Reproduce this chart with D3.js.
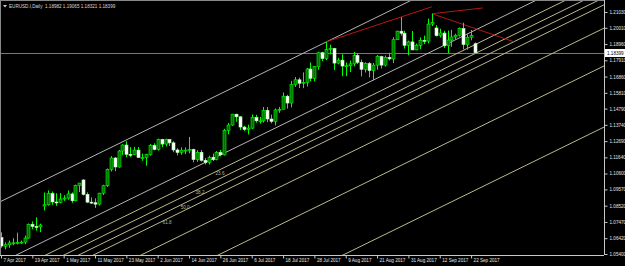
<!DOCTYPE html>
<html>
<head>
<meta charset="utf-8">
<script src="https://cdn.jsdelivr.net/npm/d3@7"></script>
<style>
  body { margin: 0; background: #000; }
  svg text { font-family: "Liberation Sans", Arial, sans-serif; }
</style>
</head>
<body>
<div id="main"></div>
<script>
const width = 625;
const height = 266;

// daily bars, EURUSD 7 Apr 2017 .. 25 Sep 2017
const dates = [
  "7 Apr","10 Apr","11 Apr","12 Apr","13 Apr","14 Apr","17 Apr","18 Apr","19 Apr","20 Apr","21 Apr",
  "24 Apr","25 Apr","26 Apr","27 Apr","28 Apr",
  "1 May","2 May","3 May","4 May","5 May","8 May","9 May","10 May","11 May","12 May","15 May","16 May",
  "17 May","18 May","19 May","22 May","23 May","24 May","25 May","26 May","29 May","30 May","31 May",
  "1 Jun","2 Jun","5 Jun","6 Jun","7 Jun","8 Jun","9 Jun","12 Jun","13 Jun","14 Jun","15 Jun","16 Jun",
  "19 Jun","20 Jun","21 Jun","22 Jun","23 Jun","26 Jun","27 Jun","28 Jun","29 Jun","30 Jun",
  "3 Jul","4 Jul","5 Jul","6 Jul","7 Jul","10 Jul","11 Jul","12 Jul","13 Jul","14 Jul","17 Jul","18 Jul",
  "19 Jul","20 Jul","21 Jul","24 Jul","25 Jul","26 Jul","27 Jul","28 Jul","31 Jul",
  "1 Aug","2 Aug","3 Aug","4 Aug","7 Aug","8 Aug","9 Aug","10 Aug","11 Aug","14 Aug","15 Aug","16 Aug",
  "17 Aug","18 Aug","21 Aug","22 Aug","23 Aug","24 Aug","25 Aug","28 Aug","29 Aug","30 Aug","31 Aug",
  "1 Sep","4 Sep","5 Sep","6 Sep","7 Sep","8 Sep","11 Sep","12 Sep","13 Sep","14 Sep","15 Sep","18 Sep",
  "19 Sep","20 Sep","21 Sep","22 Sep","25 Sep"
];
const opens = [
  1.0646,1.0590,1.0600,1.0612,1.0612,1.0615,1.0617,1.0643,1.0732,1.0718,1.0715,
  1.0850,1.0858,1.0931,1.0876,1.0874,
  1.0895,1.0901,1.0928,1.0884,1.0983,1.1018,1.0925,1.0875,1.0871,1.0862,1.0933,1.0981,
  1.1086,1.1160,1.1102,1.1205,1.1244,1.1184,1.1183,1.1211,1.1163,1.1163,1.1183,
  1.1242,1.1215,1.1280,1.1250,1.1280,1.1258,1.1212,1.1196,1.1210,1.1211,1.1215,1.1150,
  1.1197,1.1145,1.1131,1.1165,1.1150,1.1196,1.1180,1.1338,1.1373,1.1443,
  1.1426,1.1360,1.1345,1.1353,1.1422,1.1400,1.1400,1.1468,1.1412,1.1397,1.1470,1.1475,
  1.1559,1.1515,1.1634,1.1665,1.1643,1.1648,1.1735,1.1675,1.1750,
  1.1840,1.1802,1.1860,1.1867,1.1773,1.1792,1.1754,1.1756,1.1768,1.1822,1.1778,1.1733,
  1.1770,1.1725,1.1760,1.1815,1.1760,1.1810,1.1800,1.1924,1.1979,1.1966,1.1888,
  1.1910,1.1858,1.1888,1.1920,1.1915,1.2025,1.2000,1.1950,1.1967,1.1885,1.1922,1.1942,
  1.1953,1.1996,1.1893,1.1940,1.18982
];
const highs = [
  1.0680,1.0615,1.0627,1.0642,1.0678,1.0627,1.0659,1.0737,1.0750,1.0777,1.0736,
  1.0937,1.0951,1.0944,1.0932,1.0933,
  1.0920,1.0950,1.0938,1.0988,1.0999,1.1023,1.0938,1.0906,1.0899,1.0935,1.0987,1.1092,
  1.1172,1.1166,1.1212,1.1249,1.1268,1.1230,1.1232,1.1230,1.1188,1.1187,1.1250,
  1.1255,1.1285,1.1284,1.1285,1.1282,1.1268,1.1223,1.1229,1.1228,1.1296,1.1220,1.1210,
  1.1212,1.1160,1.1175,1.1188,1.1205,1.1212,1.1349,1.1387,1.1445,1.1445,
  1.1430,1.1368,1.1375,1.1441,1.1439,1.1425,1.1490,1.1489,1.1440,1.1480,1.1490,1.1583,
  1.1568,1.1658,1.1683,1.1679,1.1713,1.1742,1.1777,1.1752,1.1846,
  1.1846,1.1910,1.1892,1.1871,1.1807,1.1830,1.1777,1.1789,1.1845,1.1838,1.1796,1.1778,
  1.1780,1.1774,1.1825,1.1820,1.1822,1.1840,1.1940,1.1983,1.2070,1.1982,1.1918,
  1.1980,1.1899,1.1939,1.1950,1.2060,1.2092,1.2018,1.1995,1.1982,1.1983,1.1988,1.1962,
  1.2003,1.2034,1.1960,1.1987,1.19065
];
const lows = [
  1.0581,1.0570,1.0580,1.0597,1.0602,1.0605,1.0603,1.0640,1.0700,1.0690,1.0681,
  1.0821,1.0852,1.0858,1.0851,1.0867,
  1.0883,1.0890,1.0871,1.0880,1.0940,1.0918,1.0869,1.0864,1.0838,1.0853,1.0921,1.0973,
  1.1073,1.1075,1.1098,1.1180,1.1165,1.1166,1.1180,1.1160,1.1142,1.1110,1.1175,
  1.1210,1.1208,1.1230,1.1235,1.1238,1.1197,1.1177,1.1181,1.1185,1.1190,1.1132,1.1135,
  1.1137,1.1118,1.1118,1.1140,1.1145,1.1170,1.1176,1.1313,1.1368,1.1394,
  1.1341,1.1335,1.1312,1.1347,1.1388,1.1382,1.1389,1.1391,1.1384,1.1370,1.1452,1.1474,
  1.1479,1.1487,1.1619,1.1612,1.1611,1.1622,1.1655,1.1655,1.1730,
  1.1786,1.1792,1.1829,1.1728,1.1765,1.1688,1.1688,1.1715,1.1752,1.1767,1.1687,1.1712,
  1.1681,1.1662,1.1730,1.1738,1.1750,1.1790,1.1773,1.1922,1.1951,1.1867,1.1823,
  1.1858,1.1856,1.1863,1.1896,1.1900,1.2012,1.1945,1.1938,1.1870,1.1837,1.1879,1.1925,
  1.1945,1.1862,1.1860,1.1920,1.18321
];
const closes = [
  1.0592,1.0600,1.0612,1.0612,1.0615,1.0617,1.0643,1.0732,1.0718,1.0715,1.0727,
  1.0858,1.0931,1.0876,1.0874,1.0895,
  1.0901,1.0928,1.0884,1.0983,1.0998,1.0925,1.0875,1.0871,1.0862,1.0933,1.0981,1.1086,
  1.1160,1.1102,1.1205,1.1244,1.1184,1.1183,1.1211,1.1163,1.1163,1.1183,1.1242,
  1.1215,1.1280,1.1250,1.1280,1.1258,1.1212,1.1196,1.1210,1.1211,1.1215,1.1150,1.1197,
  1.1145,1.1131,1.1165,1.1150,1.1196,1.1180,1.1338,1.1373,1.1443,1.1426,
  1.1360,1.1345,1.1353,1.1422,1.1400,1.1400,1.1468,1.1412,1.1397,1.1470,1.1475,1.1559,
  1.1515,1.1634,1.1665,1.1643,1.1648,1.1735,1.1675,1.1750,1.1840,
  1.1802,1.1860,1.1867,1.1773,1.1792,1.1754,1.1756,1.1768,1.1822,1.1778,1.1733,1.1770,
  1.1725,1.1760,1.1815,1.1760,1.1810,1.1800,1.1924,1.1979,1.1966,1.1888,1.1910,
  1.1858,1.1888,1.1920,1.1915,1.2025,1.2035,1.1950,1.1967,1.1885,1.1922,1.1942,1.1953,
  1.1996,1.1893,1.1940,1.1950,1.18399
];

const priceTicks = [1.21030,1.20010,1.18960,1.17910,1.16860,1.15810,1.14790,1.13740,
  1.12690,1.11640,1.10600,1.09570,1.08520,1.07470,1.06420,1.05400];
const dateTickIdx = [0,8,16,24,32,40,48,56,64,72,80,88,96,104,112,120];
const dateTickLabels = ["7 Apr 2017","19 Apr 2017","1 May 2017","11 May 2017","23 May 2017",
  "2 Jun 2017","14 Jun 2017","26 Jun 2017","6 Jul 2017","18 Jul 2017","28 Jul 2017",
  "9 Aug 2017","21 Aug 2017","31 Aug 2017","12 Sep 2017","22 Sep 2017"];

const title = "EURUSD.I,Daily  1.18982 1.19065 1.18321 1.18399";
const lastPrice = 1.18399;

// fibo channel: base line price at bar 0, slope per bar, width
const channelBase = 1.0485;
const channelSlope = 0.00124;
const channelWidth = 0.0395;
const grayLevels = [-1, 0];
const fibLevels = [0.236, 0.382, 0.5, 0.618, 1, 1.618, 2.618];
const fibLabelText = ["23.6", "38.2", "50.0", "61.8"];
const fibLabelIdx = [55.9, 50.8, 47.0, 42.4];
const fibLabelPrice = [1.1063, 1.0941, 1.0844, 1.0747];

// red trend lines [idx1, price1, idx2, price2]
const trendLines = [
  [83, 1.1910, 110, 1.2137],
  [110, 1.2092, 123, 1.2129],
  [110, 1.2092, 131, 1.1910]
];

const plotRight = 604;
const plotBottom = 255;

const svg = d3.select("#main").append("svg").attr("width", width).attr("height", height)
  .style("background", "#000");

const x = d3.scaleLinear().domain([0, 121]).range([1, 475]);
const y = d3.scaleLinear().domain([1.054, 1.2103]).range([254, 12]);

svg.append("clipPath").attr("id", "plot")
  .append("rect").attr("x", 0).attr("y", 0).attr("width", plotRight).attr("height", plotBottom);

const plot = svg.append("g").attr("clip-path", "url(#plot)");

// bid line
plot.append("line")
  .attr("x1", 0).attr("x2", plotRight)
  .attr("y1", Math.round(y(lastPrice)) + 0.5).attr("y2", Math.round(y(lastPrice)) + 0.5)
  .attr("stroke", "#777").attr("stroke-width", 1);

// channel lines
const chanPrice = (i, lvl) => channelBase + channelSlope * i - lvl * channelWidth;
const drawChan = (lvl, color) => {
  plot.append("line")
    .attr("x1", x(-5)).attr("y1", y(chanPrice(-5, lvl)))
    .attr("x2", x(170)).attr("y2", y(chanPrice(170, lvl)))
    .attr("stroke", color).attr("stroke-width", 1);
};
grayLevels.forEach((l) => drawChan(l, "#b4b4b4"));
fibLevels.forEach((l) => drawChan(l, "#bdb98c"));

fibLabelText.forEach((t, k) => {
  plot.append("text")
    .attr("x", x(fibLabelIdx[k])).attr("y", y(fibLabelPrice[k]) + 2)
    .attr("text-anchor", "middle")
    .attr("fill", "#bdb98c")
    .style("font-size", "4.6px")
    .text(t);
});

// red lines
trendLines.forEach((d) => {
  plot.append("line")
    .attr("x1", x(d[0])).attr("y1", y(d[1]))
    .attr("x2", x(d[2])).attr("y2", y(d[3]))
    .attr("stroke", "#b01818").attr("stroke-width", 1);
});

// candles
const bars = dates.map((d, i) => ({ i, o: opens[i], h: highs[i], l: lows[i], c: closes[i] }));

const candle = plot.selectAll("g.candle").data(bars).enter().append("g").attr("class", "candle");

candle.append("line")
  .attr("x1", (d) => Math.round(x(d.i)) + 0.5)
  .attr("x2", (d) => Math.round(x(d.i)) + 0.5)
  .attr("y1", (d) => y(d.h))
  .attr("y2", (d) => y(d.l))
  .attr("stroke", "#00ff00").attr("stroke-width", 1);

candle.append("rect")
  .attr("x", (d) => Math.round(x(d.i)) - 1)
  .attr("y", (d) => y(Math.max(d.o, d.c)))
  .attr("width", 3)
  .attr("height", (d) => Math.max(1, Math.abs(y(d.o) - y(d.c))))
  .attr("fill", (d) => (d.c >= d.o ? "#006e00" : "#ffffff"))
  .attr("stroke", (d) => (d.c >= d.o ? "#00ff00" : "#b8ffb8"))
  .attr("stroke-width", 0.6);

// frame
svg.append("line").attr("x1", 0.5).attr("x2", 0.5).attr("y1", 0).attr("y2", plotBottom)
  .attr("stroke", "#888");
svg.append("line").attr("x1", 0).attr("x2", plotRight).attr("y1", 0.5).attr("y2", 0.5)
  .attr("stroke", "#888");

// right axis
const yAxis = d3.axisRight(y).tickValues(priceTicks).tickFormat(d3.format(".5f"))
  .tickSize(3).tickPadding(2);
const gy = svg.append("g").attr("transform", `translate(${plotRight + 0.5},0)`).call(yAxis);
gy.select(".domain").attr("d", `M0,0V${plotBottom}`).attr("stroke", "#c8c8c8");
gy.selectAll(".tick line").attr("stroke", "#c8c8c8");
gy.selectAll(".tick text").attr("fill", "#e6e6e6").style("font-size", "4.6px")
  .style("font-family", "Liberation Sans, Arial, sans-serif");

// bottom axis
const xAxis = d3.axisBottom(x).tickValues(dateTickIdx)
  .tickFormat((d, k) => dateTickLabels[k]).tickSize(3).tickPadding(2);
const gx = svg.append("g").attr("transform", `translate(0,${plotBottom + 0.5})`).call(xAxis);
gx.select(".domain").attr("d", `M0,0H${plotRight}`).attr("stroke", "#c8c8c8");
gx.selectAll(".tick line").attr("stroke", "#c8c8c8");
gx.selectAll(".tick text").attr("fill", "#e6e6e6").style("font-size", "4.6px")
  .attr("text-anchor", "start").attr("x", 2).attr("dy", "0.35em")
  .style("font-family", "Liberation Sans, Arial, sans-serif");

// last price tag
const tagY = Math.round(y(lastPrice));
svg.append("rect").attr("x", plotRight + 1).attr("y", tagY - 4).attr("width", 20).attr("height", 8)
  .attr("fill", "#fff");
svg.append("text").attr("x", plotRight + 3).attr("y", tagY + 1.7)
  .attr("fill", "#000").style("font-size", "4.6px").text(d3.format(".5f")(lastPrice));

// title
svg.append("path").attr("d", "M3,5 L7,5 L5,7.5 Z").attr("fill", "#ccc");
svg.append("text").attr("x", 9).attr("y", 8).attr("fill", "#d8d8d8")
  .style("font-size", "4.6px").attr("xml:space", "preserve").text(title);
</script>
</body>
</html>
